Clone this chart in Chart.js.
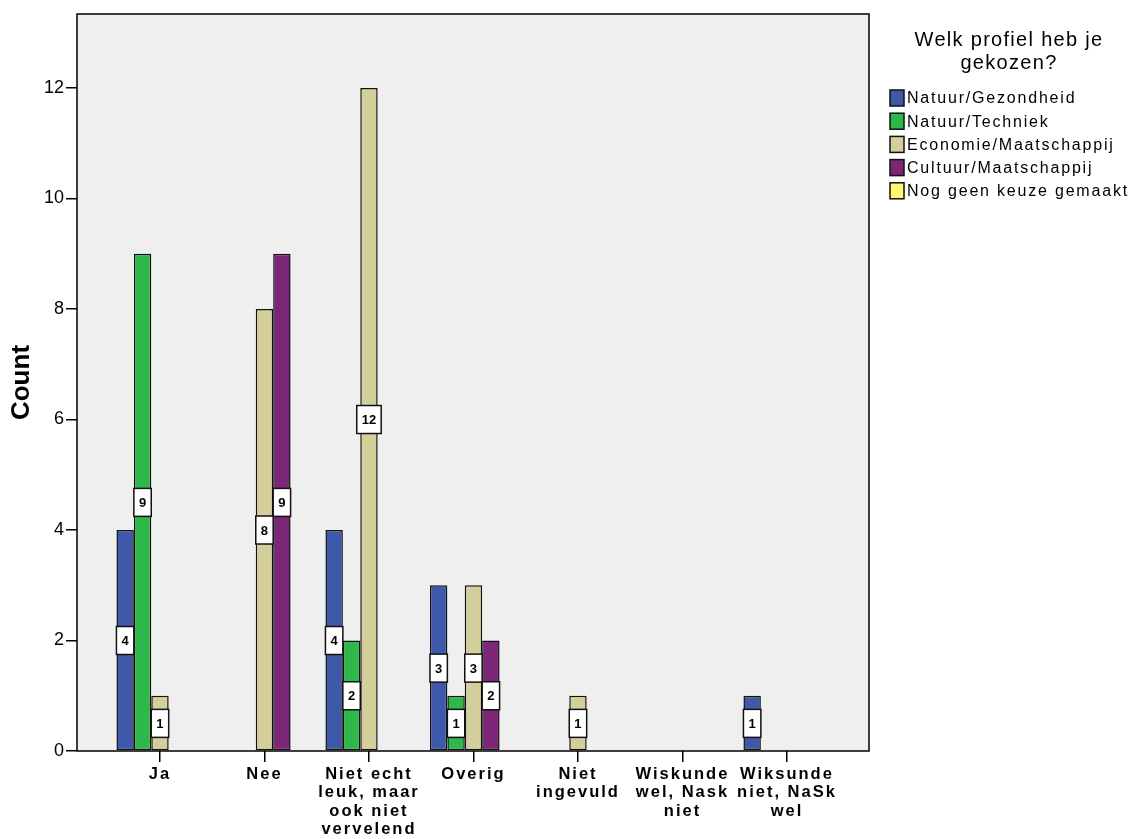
<!DOCTYPE html>
<html>
<head>
<meta charset="utf-8">
<title>Welk profiel heb je gekozen?</title>
<script src="https://cdn.jsdelivr.net/npm/chart.js@4.4.1/dist/chart.umd.min.js"></script>
<style>
  html, body { margin: 0; padding: 0; background: #ffffff; }
  #wrap { width: 1128px; height: 839px; }
</style>
</head>
<body>
<div id="wrap"><canvas id="chart" width="1128" height="839"></canvas></div>
<script>
// Answer categories along the x axis (multi-line labels)
const categories = [
  ['Ja'],
  ['Nee'],
  ['Niet echt', 'leuk, maar', 'ook niet', 'vervelend'],
  ['Overig'],
  ['Niet', 'ingevuld'],
  ['Wiskunde', 'wel, Nask', 'niet'],
  ['Wiksunde', 'niet, NaSk', 'wel']
];

// Counts per chosen profile, one value per category
const natuurGezondheid     = [4, 0, 4, 3, 0, 0, 1];
const natuurTechniek       = [9, 0, 2, 1, 0, 0, 0];
const economieMaatschappij = [1, 8, 12, 3, 1, 0, 0];
const cultuurMaatschappij  = [0, 9, 0, 2, 0, 0, 0];
const nogGeenKeuze         = [0, 0, 0, 0, 0, 0, 0];

const seriesNames = ['Natuur/Gezondheid', 'Natuur/Techniek', 'Economie/Maatschappij', 'Cultuur/Maatschappij', 'Nog geen keuze gemaakt'];
const seriesValues = [natuurGezondheid, natuurTechniek, economieMaatschappij, cultuurMaatschappij, nogGeenKeuze];
const seriesColors = ['#3e59a9', '#2eb84b', '#d4cf9a', '#7d2678', '#fbf96f'];

const yTicks = [0, 2, 4, 6, 8, 10, 12];
const legendTitle = ['Welk profiel heb je', 'gekozen?'];
const yTitle = 'Count';

const FONT = "'Liberation Sans', Arial, sans-serif";

const datasets = seriesValues.map((vals, s) => ({
  label: seriesNames[s],
  data: vals.map((v, i) => ({ x: i, y: v })),
  backgroundColor: seriesColors[s],
  borderColor: '#111111',
  borderWidth: 1.5,
  borderSkipped: false,
  categoryPercentage: 0.833,
  barPercentage: 1.0
}));

// Grey plot panel with a black frame; the wide letter spacing of the
// category labels is switched on only while the x axis is drawn
const panelPlugin = {
  id: 'panel',
  beforeDraw(chart) {
    chart.ctx.letterSpacing = '2px';
  },
  beforeDatasetsDraw(chart) {
    const { ctx, chartArea: a } = chart;
    ctx.letterSpacing = '0px';
    ctx.save();
    ctx.fillStyle = '#efefef';
    ctx.fillRect(a.left, a.top, a.right - a.left, a.bottom - a.top);
    ctx.restore();
  },
  afterDatasetsDraw(chart) {
    const { ctx, chartArea: a } = chart;
    ctx.save();
    ctx.strokeStyle = '#000000';
    ctx.lineWidth = 1.5;
    ctx.strokeRect(a.left, a.top, a.right - a.left, a.bottom - a.top);
    ctx.restore();
  }
};

// Boxed count labels at the middle of each bar
const valueLabelPlugin = {
  id: 'valueLabels',
  afterDatasetsDraw(chart) {
    const { ctx } = chart;
    const yScale = chart.scales.y;
    ctx.save();
    ctx.font = 'bold 13px ' + FONT;
    ctx.textAlign = 'center';
    ctx.textBaseline = 'middle';
    chart.data.datasets.forEach((ds, di) => {
      const meta = chart.getDatasetMeta(di);
      meta.data.forEach((bar, i) => {
        const v = ds.data[i].y;
        if (!v) return;
        const text = String(v);
        const w = Math.max(bar.width, ctx.measureText(text).width + 10);
        const h = 28;
        const cy = yScale.getPixelForValue(v / 2);
        ctx.fillStyle = '#ffffff';
        ctx.fillRect(bar.x - w / 2, cy - h / 2, w, h);
        ctx.strokeStyle = '#111111';
        ctx.lineWidth = 1.5;
        ctx.strokeRect(bar.x - w / 2, cy - h / 2, w, h);
        ctx.fillStyle = '#000000';
        ctx.fillText(text, bar.x, cy + 1);
      });
    });
    ctx.restore();
  }
};

// Legend with a centred two-line title on the right
const sideLegendPlugin = {
  id: 'sideLegend',
  afterDraw(chart) {
    const { ctx } = chart;
    ctx.save();
    ctx.fillStyle = '#000000';
    ctx.textAlign = 'center';
    ctx.textBaseline = 'middle';
    ctx.letterSpacing = '1.3px';
    ctx.font = '20px ' + FONT;
    legendTitle.forEach((line, i) => ctx.fillText(line, 1009, 40 + i * 23.5));
    ctx.letterSpacing = '1.8px';
    ctx.font = '16px ' + FONT;
    ctx.textAlign = 'left';
    chart.data.datasets.forEach((ds, i) => {
      const y = 98 + i * 23.2;
      ctx.fillStyle = ds.backgroundColor;
      ctx.fillRect(890, y - 8, 14, 16);
      ctx.strokeStyle = '#111111';
      ctx.lineWidth = 1.5;
      ctx.strokeRect(890, y - 8, 14, 16);
      ctx.fillStyle = '#000000';
      ctx.fillText(ds.label, 907, y + 1);
    });
    ctx.restore();
  }
};

new Chart(document.getElementById('chart'), {
  type: 'bar',
  data: { datasets },
  plugins: [panelPlugin, valueLabelPlugin, sideLegendPlugin],
  options: {
    responsive: false,
    devicePixelRatio: 1,
    animation: false,
    layout: { padding: { top: 14, right: 259, left: 0, bottom: 0 } },
    plugins: { legend: { display: false }, tooltip: { enabled: false } },
    scales: {
      x: {
        type: 'linear',
        min: -0.794,
        max: 6.785,
        offset: false,
        afterBuildTicks(scale) { scale.ticks = categories.map((c, i) => ({ value: i })); },
        afterFit(scale) { scale.height = 88; },
        border: { display: false },
        grid: { display: true, offset: false, drawOnChartArea: false, drawTicks: true, tickLength: 11, color: '#000000', lineWidth: 1.5 },
        ticks: {
          autoSkip: false,
          maxRotation: 0,
          padding: 3,
          color: '#000000',
          font: { family: FONT, size: 16.5, weight: 'bold', lineHeight: 1.12 },
          callback(value) { return categories[value] || ''; }
        }
      },
      y: {
        min: 0,
        max: 13.34,
        afterBuildTicks(scale) { scale.ticks = yTicks.map(v => ({ value: v })); },
        afterFit(scale) { scale.width = 77; },
        border: { display: false, z: 1 },
        grid: { display: true, z: 1, drawOnChartArea: false, drawTicks: true, tickLength: 11, color: '#000000', lineWidth: 1.5 },
        ticks: {
          z: 1,
          padding: 2,
          color: '#000000',
          font: { family: FONT, size: 18 }
        },
        title: {
          display: true,
          text: yTitle,
          color: '#000000',
          padding: { top: 6, bottom: 0 },
          font: { family: FONT, size: 26, weight: 'bold' }
        }
      }
    }
  }
});
</script>
</body>
</html>
